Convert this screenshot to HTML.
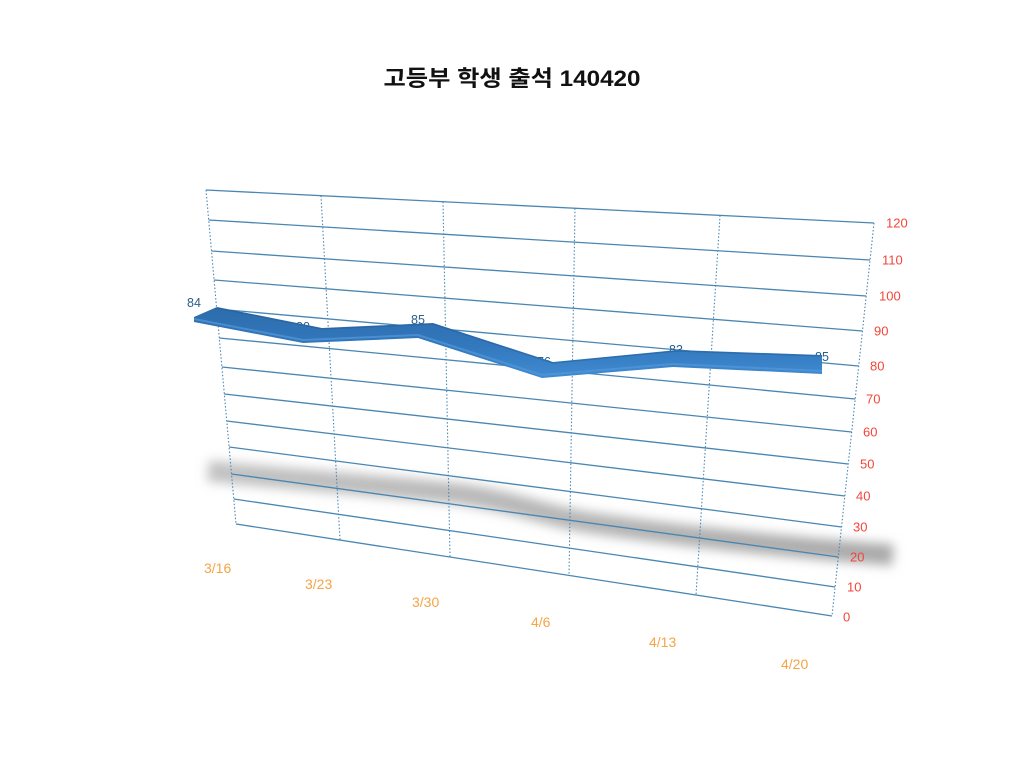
<!DOCTYPE html>
<html><head><meta charset="utf-8"><style>
html,body{margin:0;padding:0;background:#fff;}
svg{display:block;}
</style></head><body>
<svg width="1024" height="768" viewBox="0 0 1024 768" xmlns="http://www.w3.org/2000/svg">
<defs>
<filter id="blur" x="-10%" y="-80%" width="120%" height="260%"><feGaussianBlur stdDeviation="5.5"/></filter>
<linearGradient id="rib" x1="0" y1="0" x2="0" y2="1">
<stop offset="0" stop-color="#2c6cab"/>
<stop offset="0.55" stop-color="#3378bd"/>
<stop offset="1" stop-color="#408bd2"/>
</linearGradient>
<linearGradient id="sh" gradientUnits="userSpaceOnUse" x1="208" y1="0" x2="893" y2="0">
<stop offset="0" stop-color="#c2c2c2"/>
<stop offset="0.5" stop-color="#b6b6b6"/>
<stop offset="1" stop-color="#a9a9a9"/>
</linearGradient>
</defs>
<rect width="1024" height="768" fill="#fff"/>
<text x="512" y="86" text-anchor="middle" font-family="'Liberation Sans','Noto Sans CJK KR',sans-serif" font-size="22" font-weight="bold" textLength="257" lengthAdjust="spacingAndGlyphs" fill="#111">고등부 학생 출석 140420</text>

<!-- shadow -->
<path d="M208,471 C300,480 400,487 460,494 C515,502 540,514 585,522 C660,533 760,545 893,555" fill="none" stroke="url(#sh)" stroke-width="21" filter="url(#blur)"/>

<!-- horizontal gridlines -->
<g stroke="#4a86b2" stroke-width="1.3" fill="none">
<line x1="206" y1="190" x2="874" y2="223"/>
<line x1="208.7" y1="220" x2="870" y2="260"/>
<line x1="211.5" y1="251" x2="866.2" y2="296"/>
<line x1="214.1" y1="280" x2="862.5" y2="331"/>
<line x1="216.7" y1="309" x2="858.7" y2="366"/>
<line x1="219.3" y1="338" x2="855.2" y2="399"/>
<line x1="221.9" y1="367" x2="851.7" y2="432"/>
<line x1="224.3" y1="394" x2="848.2" y2="464"/>
<line x1="226.7" y1="421" x2="844.8" y2="496"/>
<line x1="229.1" y1="447" x2="841.5" y2="527"/>
<line x1="231.5" y1="474" x2="838.3" y2="557"/>
<line x1="233.8" y1="499" x2="835.1" y2="587"/>
<line x1="236" y1="524" x2="832" y2="616"/>
</g>
<!-- vertical dotted gridlines -->
<g stroke="#4a86b2" stroke-width="1.1" stroke-dasharray="1.5,2" fill="none">
<line x1="206" y1="190" x2="236" y2="524"/>
<line x1="321" y1="195.7" x2="340" y2="540"/>
<line x1="443" y1="201.7" x2="450" y2="557"/>
<line x1="575" y1="208.2" x2="569" y2="575.4"/>
<line x1="720" y1="215.4" x2="696" y2="595"/>
<line x1="874" y1="223" x2="832" y2="616"/>
</g>

<!-- y axis labels -->
<g font-family="'Liberation Sans',sans-serif" font-size="13" fill="#f2453a">
<text x="886" y="227.5">120</text>
<text x="882" y="264.5">110</text>
<text x="879" y="300.5">100</text>
<text x="874" y="335.5">90</text>
<text x="870" y="370.5">80</text>
<text x="866" y="403.5">70</text>
<text x="863" y="436.5">60</text>
<text x="860" y="468.5">50</text>
<text x="856" y="500.5">40</text>
<text x="853" y="531.5">30</text>
<text x="850" y="561.5">20</text>
<text x="847" y="591.5">10</text>
<text x="843" y="621.5">0</text>
</g>

<!-- x axis labels -->
<g font-family="'Liberation Sans',sans-serif" font-size="14" fill="#f5a446">
<text x="204" y="573">3/16</text>
<text x="305" y="589">3/23</text>
<text x="412" y="607">3/30</text>
<text x="531" y="627">4/6</text>
<text x="649" y="647">4/13</text>
<text x="781" y="669">4/20</text>
</g>

<!-- data labels (behind ribbon) -->
<g font-family="'Liberation Sans',sans-serif" font-size="12.5" fill="#2a5f88">
<text x="187" y="307">84</text>
<text x="296" y="331">80</text>
<text x="411" y="324">85</text>
<text x="537" y="366">76</text>
<text x="669" y="354">83</text>
<text x="815" y="361">85</text>
</g>

<!-- ribbon -->
<polygon points="194,317 217,307 322,328 433,323 553,362 677,350 822,355 822,374 673,367 542,378 418,338 303,343 194,322" fill="url(#rib)"/>
<polyline points="194,319 303,340 418,335 542,375 673,364 822,371" fill="none" stroke="#5198da" stroke-width="2" opacity="0.7"/>
<polyline points="217,308 322,329 433,324 553,363 677,351 822,356" fill="none" stroke="#24598f" stroke-width="1.2" opacity="0.5"/>
</svg>
</body></html>
